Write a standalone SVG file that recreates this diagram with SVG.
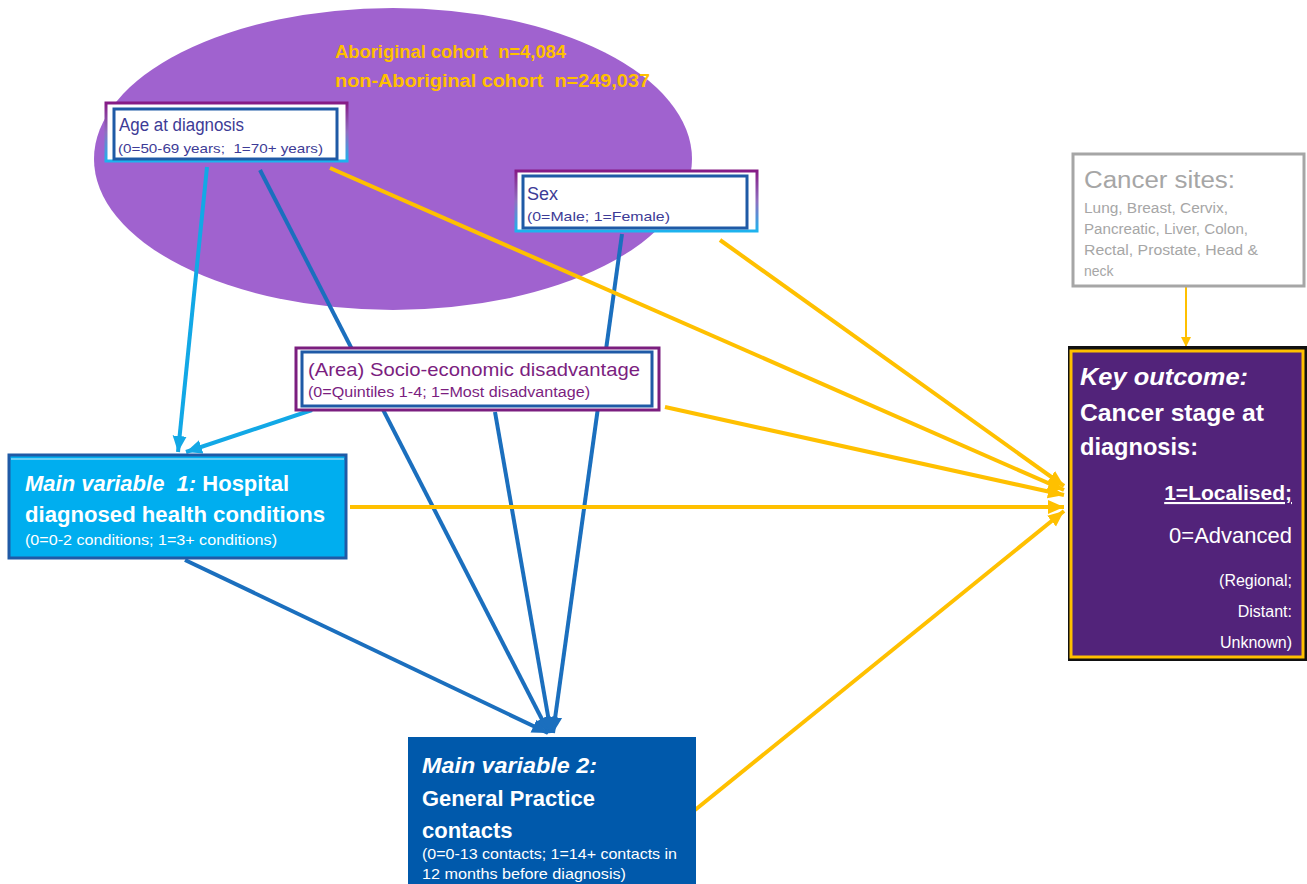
<svg xmlns="http://www.w3.org/2000/svg" width="1307" height="884" viewBox="0 0 1307 884">
<defs>
<style>
text{font-family:"Liberation Sans",Arial,sans-serif;white-space:pre}
.b{font-weight:bold}
.bi{font-weight:bold;font-style:italic}
.blue{stroke:#1B6FBE;stroke-width:4;fill:none}
.lblue{stroke:#12A8E6;stroke-width:4;fill:none}
.org{stroke:#FFC000;stroke-width:4;fill:none}
.wt{fill:#fff}
.nv{fill:#3D3B96}
.pu{fill:#7B1E7F}
.gr{fill:#A6A6A6}
</style>
<linearGradient id="pg" x1="0" y1="0" x2="0" y2="1">
<stop offset="0" stop-color="#861B86"/>
<stop offset="0.5" stop-color="#8f6fc0"/>
<stop offset="1" stop-color="#1DB3EE"/>
</linearGradient>
<marker id="ab" markerUnits="userSpaceOnUse" markerWidth="18" markerHeight="16" refX="16" refY="8" orient="auto">
<path d="M0,1 L16,8 L0,15 z" fill="#1B6FBE"/>
</marker>
<marker id="al" markerUnits="userSpaceOnUse" markerWidth="18" markerHeight="16" refX="16" refY="8" orient="auto">
<path d="M0,1 L16,8 L0,15 z" fill="#12A8E6"/>
</marker>
<marker id="ao" markerUnits="userSpaceOnUse" markerWidth="18" markerHeight="16" refX="16" refY="8" orient="auto">
<path d="M0,1 L16,8 L0,15 z" fill="#FFC000"/>
</marker>
<marker id="ao2" markerUnits="userSpaceOnUse" markerWidth="12" markerHeight="10" refX="10" refY="5" orient="auto">
<path d="M0,0 L10,5 L0,10 z" fill="#FFC000"/>
</marker>
</defs>
<rect width="1307" height="884" fill="#fff"/>

<g id="cohort">
<ellipse cx="393" cy="159" rx="299" ry="151" fill="#A062CF"/>
<text x="335" y="58" class="b" font-size="18" fill="#FFC000" textLength="231" lengthAdjust="spacingAndGlyphs">Aboriginal cohort  n=4,084</text>
<text x="335" y="87" class="b" font-size="18" fill="#FFC000" textLength="315" lengthAdjust="spacingAndGlyphs">non-Aboriginal cohort  n=249,037</text>
</g>

<g id="connectors">
<line x1="260" y1="170" x2="549" y2="733" class="blue" marker-end="url(#ab)"/>
<line x1="622" y1="234" x2="553" y2="733" class="blue" marker-end="url(#ab)"/>
<line x1="495" y1="412" x2="551" y2="733" class="blue" marker-end="url(#ab)"/>
<line x1="185" y1="560" x2="548" y2="733" class="blue" marker-end="url(#ab)"/>
<line x1="207" y1="167" x2="178" y2="452" class="lblue" marker-end="url(#al)"/>
<line x1="312" y1="410" x2="186" y2="452" class="lblue" marker-end="url(#al)"/>
<line x1="330" y1="168" x2="1064" y2="490" class="org" marker-end="url(#ao)"/>
<line x1="720" y1="240" x2="1064" y2="486" class="org" marker-end="url(#ao)"/>
<line x1="665" y1="407" x2="1064" y2="495" class="org" marker-end="url(#ao)"/>
<line x1="350" y1="507" x2="1064" y2="507" class="org" marker-end="url(#ao)"/>
<line x1="695" y1="810" x2="1064" y2="511" class="org" marker-end="url(#ao)"/>
<line x1="1186" y1="285" x2="1186" y2="347" stroke="#FFC000" stroke-width="2" marker-end="url(#ao2)"/>
</g>

<g id="age">
<rect x="106" y="103" width="241" height="58" fill="#fff" stroke="url(#pg)" stroke-width="3"/>
<rect x="114" y="109" width="223" height="50" fill="#fff" stroke="#1F5AA6" stroke-width="3"/>
<text x="119" y="131" font-size="18" class="nv" textLength="125" lengthAdjust="spacingAndGlyphs">Age at diagnosis</text>
<text x="118" y="153" font-size="13" class="nv" textLength="205" lengthAdjust="spacingAndGlyphs">(0=50-69 years;  1=70+ years)</text>
</g>

<g id="sex">
<rect x="516" y="171" width="241" height="60" fill="#fff" stroke="url(#pg)" stroke-width="3"/>
<rect x="523" y="176" width="224" height="52" fill="#fff" stroke="#1F5AA6" stroke-width="3"/>
<text x="527" y="200" font-size="18" class="nv">Sex</text>
<text x="527" y="221" font-size="13" class="nv" textLength="143" lengthAdjust="spacingAndGlyphs">(0=Male; 1=Female)</text>
</g>

<g id="socio">
<rect x="296" y="348" width="363" height="62" fill="#fff" stroke="#7B1E7F" stroke-width="3"/>
<rect x="302" y="352" width="350" height="54" fill="#fff" stroke="#1F5AA6" stroke-width="3"/>
<text x="308" y="376" font-size="19" class="pu" textLength="332" lengthAdjust="spacingAndGlyphs">(Area) Socio-economic disadvantage</text>
<text x="308" y="397" font-size="14" class="pu" textLength="282" lengthAdjust="spacingAndGlyphs">(0=Quintiles 1-4; 1=Most disadvantage)</text>
</g>

<g id="mv1">
<rect x="9" y="455" width="337" height="103" fill="#00AEEF" stroke="#1F5AA6" stroke-width="3"/>
<line x1="11" y1="459" x2="344" y2="459" stroke="#cdeffc" stroke-width="1"/>
<text x="25" y="491" font-size="22" class="wt"><tspan class="bi">Main variable  1:</tspan><tspan class="b"> Hospital</tspan></text>
<text x="25" y="522" font-size="22" class="wt b" textLength="300" lengthAdjust="spacingAndGlyphs">diagnosed health conditions</text>
<text x="25" y="545" font-size="14" class="wt" textLength="252" lengthAdjust="spacingAndGlyphs">(0=0-2 conditions; 1=3+ conditions)</text>
</g>

<g id="mv2">
<rect x="408" y="737" width="288" height="150" fill="#0059AB"/>
<text x="422" y="773" font-size="22" class="wt bi" textLength="175" lengthAdjust="spacingAndGlyphs">Main variable 2:</text>
<text x="422" y="806" font-size="22" class="wt b" textLength="173" lengthAdjust="spacingAndGlyphs">General Practice</text>
<text x="422" y="838" font-size="22" class="wt b">contacts</text>
<text x="422" y="859" font-size="15" class="wt" textLength="255" lengthAdjust="spacingAndGlyphs">(0=0-13 contacts; 1=14+ contacts in</text>
<text x="422" y="879" font-size="15" class="wt" textLength="204" lengthAdjust="spacingAndGlyphs">12 months before diagnosis)</text>
</g>

<g id="sites">
<rect x="1073" y="154" width="231" height="132" fill="#fff" stroke="#A6A6A6" stroke-width="3"/>
<text x="1084" y="188" font-size="23" class="gr" textLength="151" lengthAdjust="spacingAndGlyphs">Cancer sites:</text>
<text x="1084" y="213" font-size="14" class="gr" textLength="144" lengthAdjust="spacingAndGlyphs">Lung, Breast, Cervix,</text>
<text x="1084" y="234" font-size="14" class="gr" textLength="164" lengthAdjust="spacingAndGlyphs">Pancreatic, Liver, Colon,</text>
<text x="1084" y="255" font-size="14" class="gr" textLength="174" lengthAdjust="spacingAndGlyphs">Rectal, Prostate, Head &amp;</text>
<text x="1084" y="276" font-size="14" class="gr">neck</text>
</g>

<g id="outcome">
<rect x="1068" y="346" width="240" height="315" fill="#111" />
<rect x="1071" y="351" width="232" height="306" fill="#52237A" stroke="#FFC000" stroke-width="3"/>
<text x="1080" y="385" font-size="24" class="wt bi" textLength="168" lengthAdjust="spacingAndGlyphs">Key outcome:</text>
<text x="1080" y="421" font-size="24" class="wt b" textLength="184" lengthAdjust="spacingAndGlyphs">Cancer stage at</text>
<text x="1080" y="455" font-size="24" class="wt b" textLength="118" lengthAdjust="spacingAndGlyphs">diagnosis:</text>
<text x="1292" y="500" font-size="21" class="wt b" text-anchor="end" text-decoration="underline">1=Localised;</text>
<text x="1292" y="543" font-size="22" class="wt" text-anchor="end">0=Advanced</text>
<text x="1292" y="586" font-size="16" class="wt" text-anchor="end">(Regional;</text>
<text x="1292" y="617" font-size="16" class="wt" text-anchor="end">Distant:</text>
<text x="1292" y="648" font-size="16" class="wt" text-anchor="end">Unknown)</text>
</g>
</svg>
